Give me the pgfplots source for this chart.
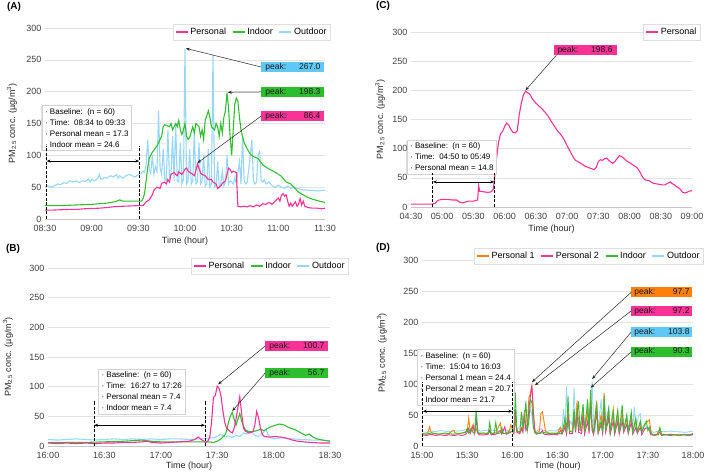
\documentclass[border=0pt]{standalone}
\usepackage{fontspec}
\setmainfont{Liberation Sans}
\usepackage{pgfplots}
\pgfplotsset{compat=1.18}
\usetikzlibrary{arrows.meta,shadows}

\definecolor{cpink}{RGB}{250,50,150}
\definecolor{cgreen}{RGB}{50,190,50}
\definecolor{cblue}{RGB}{150,215,250}
\definecolor{corange}{RGB}{255,128,10}
\definecolor{bpink}{RGB}{250,50,150}
\definecolor{bgreen}{RGB}{45,190,45}
\definecolor{bblue}{RGB}{95,200,245}
\definecolor{borange}{RGB}{255,128,10}

\pgfplotsset{
  panel/.style={
    scale only axis, clip=false,
    ymin=0, ymax=300, ytick={0,50,...,300},
    axis x line*=bottom, axis y line*=left,
    x axis line style={draw=gray!45, -},
    y axis line style={draw=none},
    major tick length=0pt,
    ymajorgrids, grid style={gray!22, line width=0.6pt},
    tick label style={font=\fontsize{9}{10}\selectfont, text=black!75},
    xticklabel style={yshift=-2.5pt},
    /pgf/number format/assume math mode=true,
    label style={font=\fontsize{9}{10}\selectfont, text=black!85},
    xlabel={Time (hour)},
    ylabel={PM\textsubscript{2.5} conc. (µg/m\textsuperscript{3})},
    legend style={draw=gray!25, fill=white, font=\fontsize{9}{10}\selectfont,
      inner sep=2pt, legend columns=-1,
      /tikz/every even column/.append style={column sep=4pt}},
    legend cell align=left,
    legend image code/.code={\draw[#1] (0pt,0pt) -- (12pt,0pt);},
    every axis plot/.append style={line width=1.1pt, no markers},
  },
}
\tikzset{
  peak/.style={fill=#1, inner sep=0pt, minimum height=10pt, minimum width=63pt,
    font=\fontsize{8.5}{9}\selectfont, text=black!90},
  pk/.style={-{Stealth[length=4pt,width=3pt]}, line width=0.5pt, black!85},
  base/.style={draw=gray!35, fill=white,
    drop shadow={shadow xshift=-1pt, shadow yshift=-1pt, opacity=0.25},
    align=left, font=\fontsize{8}{11}\selectfont, inner sep=3pt, anchor=north west},
  bl/.style={line width=0.8pt, dash pattern=on 3pt off 1.5pt},
  ba/.style={{Stealth[length=4pt,width=3pt]}-{Stealth[length=4pt,width=3pt]}, line width=0.8pt},
}
\newcommand{\pk}[1]{\makebox[55pt]{peak:\hfill #1}}

\begin{document}
\begin{tikzpicture}
\path[use as bounding box] (0pt,0pt) rectangle (709pt,473pt);

% ---------------- (A)
\begin{axis}[panel, at={(45pt,254pt)}, anchor=south west,
  width=280pt, height=191pt, xmin=0, xmax=180,
  xtick={0,30,...,180}, xticklabels={08:30,09:00,09:30,10:00,10:30,11:00,11:30},
  xlabel style={at={(axis description cs:0.5,-0.115)}, anchor=center},
  ylabel style={at={(axis description cs:-0.118,0.5)}, anchor=center},
  legend style={at={(axis description cs:0.739,0.979)}, anchor=center}]
\addlegendimage{cpink, line width=1.3pt}\addlegendentry{Personal}
\addlegendimage{cgreen, line width=1.3pt}\addlegendentry{Indoor}
\addlegendimage{cblue, line width=1.3pt}\addlegendentry{Outdoor}
\addplot[cblue, forget plot] coordinates {
(0,50)(2,52)(4,50)(6,52)(8,55)(10,54)(12,57)(14,56)(16,60)(18,58)(20,60)(22,57)
(24,60)(26,59)(28,63)(29,58)(30,62)(32,60)(34,64)(35,70)(36,62)(38,65)(40,64)
(42,68)(44,66)(46,70)(47,64)(48,68)(50,64)(52,68)(54,70)(56,68)(58,66)(60,70)
(62,72)(63,75)(64,73)(65,85)(66,125)(67,78)(68,72)(69,100)(70,70)(71,82)(72,75)
(73,170)(74,80)(75,70)(76,110)(77,62)(78,60)(79,140)(80,65)(81,70)(82,130)(83,60)
(84,150)(85,60)(86,58)(87,120)(88,55)(89,62)(90,267)(91,55)(92,60)(93,110)(94,55)
(95,60)(96,140)(97,55)(98,58)(99,120)(100,55)(101,60)(102,100)(103,52)(104,55)
(105,110)(106,50)(107,55)(108,258)(109,50)(110,52)(111,90)(112,50)(113,55)(114,75)
(115,52)(116,58)(117,100)(118,55)(119,60)(120,58)(121,55)(122,65)(123,55)(125,90)
(126,55)(127,129)(128,60)(129,55)(130,58)(132,100)(133,124)(134,60)(135,55)(136,58)
(137,100)(138,106)(139,60)(140,58)(141,62)(142,55)(144,58)(146,52)(148,50)(150,53)
(152,50)(154,48)(156,52)(158,48)(160,50)(165,46)(170,45)(175,44)(180,45)};
\addplot[cgreen, forget plot] coordinates {
(0,21)(10,21)(20,22)(30,23)(40,25)(45,27)(48,30)(50,28)(55,28)(60,28)(62,28)
(63,32)(64,40)(65,60)(66,80)(67,95)(68,100)(69,105)(70,108)(72,115)(74,125)
(75,130)(76,145)(77,148)(78,147)(80,145)(81,150)(82,140)(84,150)(85,145)(86,155)
(87,140)(88,133)(89,140)(90,150)(91,130)(92,125)(93,128)(95,145)(96,135)(97,150)
(99,145)(100,130)(101,140)(102,125)(103,155)(105,170)(106,160)(107,145)(109,140)
(110,150)(111,145)(112,130)(113,150)(114,135)(115,160)(116,170)(117,198.3)(118,175)
(119,130)(120,100)(121,140)(122,180)(123,190)(124,185)(125,160)(126,140)(128,120)
(130,110)(132,102)(134,98)(137,95)(140,85)(143,80)(146,76)(149,72)(152,67)
(155,58)(158,55)(160,50)(163,42)(166,38)(168,35)(170,33)(172,31)(175,29)(178,27)
(180,26)};
\addplot[cpink, forget plot] coordinates {
(0,14)(5,14)(10,14.5)(15,15)(20,15)(25,16)(30,16.5)(35,17)(40,18)(45,19.5)(50,20)
(55,20.5)(60,21)(63,21)(64,24)(65,27)(67,30)(69,38)(70,45)(72,50)(74,48)(75,56)
(77,58)(78,55)(79,62)(80,58)(81,70)(83,73)(84,70)(85,68)(86,74)(88,70)(90,78)
(91,80)(92,75)(94,72)(95,70)(96,68)(97,76)(98,86.4)(99,80)(100,72)(101,70)(103,68)
(105,62)(107,62)(108,58)(110,55)(111,48)(113,52)(114,56)(116,60)(117,70)(118,80)
(119,78)(120,73)(121,75)(122,74)(123,73)(124,20)(126,19)(128,20)(130,19)(132,21)
(134,19)(136,22)(138,20)(140,24)(142,23)(144,26)(146,23)(148,28)(150,33)(151,28)
(152,37)(153,40)(154,36)(155,38)(156,28)(157,20)(158,25)(159,20)(161,27)(162,20)
(163,23)(164,32)(165,22)(166,28)(167,20)(169,18)(172,17)(175,17)(178,16)(180,17)};
\node[base] at (axis cs:-2,179) {· Baseline:\ \ (n = 60)\\ · Time:\ \ 08:34 to 09:33\\ · Personal mean = 17.3\\ · Indoor mean = 24.6};
\draw[bl] (axis cs:1,0) -- (axis cs:1,115);
\draw[bl] (axis cs:60.6,0) -- (axis cs:60.6,115);
\draw[ba] (axis cs:1,91) -- (axis cs:60.6,91);
\node[peak=bblue] (pa1) at (axis cs:159.4,238.7) {\pk{267.0}};
\node[peak=bgreen] (pa2) at (axis cs:159.4,199.5) {\pk{198.3}};
\node[peak=bpink] (pa3) at (axis cs:159.4,161.8) {\pk{86.4}};
\draw[pk] (pa1.west) -- (axis cs:90.5,268);
\draw[pk] (pa2.west) -- (axis cs:117.5,199);
\draw[pk] (pa3.west) -- (axis cs:98,88);
\end{axis}

% ---------------- (C)
\begin{axis}[panel, at={(411pt,266pt)}, anchor=south west,
  width=281pt, height=175pt, xmin=0, xmax=270,
  xtick={0,30,...,270}, xticklabels={04:30,05:00,05:30,06:00,06:30,07:00,07:30,08:00,08:30,09:00},
  xlabel style={at={(axis description cs:0.5,-0.126)}, anchor=center},
  ylabel style={at={(axis description cs:-0.11,0.5)}, anchor=center},
  legend style={at={(axis description cs:0.929,1.0)}, anchor=center}]
\addlegendimage{cpink, line width=1.3pt}\addlegendentry{Personal}
\addplot[cpink, forget plot] coordinates {
(0,5)(10,5)(20,5)(23,6)(25,10)(27,12)(30,13)(35,13)(40,12)(44,12)(47,8)(50,7)
(53,9)(56,10)(60,10)(62,11)(64,12)(65,37)(66,27)(70,26)(74,25)(77,26)(79,30)
(80,45)(82,80)(84,110)(86,125)(88,130)(90,138)(92,144)(94,140)(96,133)(98,128)
(100,127)(102,130)(104,158)(106,178)(108,192)(110,198.6)(112,196)(114,194)
(116,187)(118,182)(120,178)(123,173)(126,168)(129,162)(132,155)(135,146)(138,138)
(141,130)(144,124)(147,116)(150,105)(153,95)(156,85)(158,80)(161,77)(164,74)
(167,70)(170,68)(173,66)(176,64)(178,68)(180,78)(182,81)(184,80)(186,83)(188,84)
(190,80)(192,77)(194,75)(196,78)(198,83)(200,88)(202,87)(204,84)(206,81)(208,78)
(211,75)(214,71)(217,68)(220,60)(222,53)(224,48)(226,46)(229,45)(232,41)(235,40)
(238,39)(241,38)(244,38)(247,41)(249,43)(251,40)(253,38)(255,35)(257,33)(259,30)
(261,25)(263,24)(265,25)(267,27)(270,28)};
\node[base] at (axis cs:-3.8,115) {· Baseline:\ \ (n = 60)\\ · Time:\ \ 04:50 to 05:49\\ · Personal mean = 14.8};
\draw[bl] (axis cs:21,0) -- (axis cs:21,58);
\draw[bl] (axis cs:80,0) -- (axis cs:80,58);
\draw[ba] (axis cs:21,43) -- (axis cs:80,43);
\node[peak=bpink] (pc1) at (axis cs:167.2,269) {\pk{198.6}};
\draw[pk] ([xshift=3pt]pc1.south west) -- (axis cs:110,200);
\end{axis}

% ---------------- (B)
\begin{axis}[panel, at={(48pt,27pt)}, anchor=south west,
  width=282pt, height=178pt, xmin=0, xmax=150,
  xtick={0,30,...,150}, xticklabels={16:00,16:30,17:00,17:30,18:00,18:30},
  xlabel style={at={(axis description cs:0.5,-0.112)}, anchor=center},
  ylabel style={at={(axis description cs:-0.142,0.5)}, anchor=center},
  legend style={at={(axis description cs:0.787,1.011)}, anchor=center}]
\addlegendimage{cpink, line width=1.3pt}\addlegendentry{Personal}
\addlegendimage{cgreen, line width=1.3pt}\addlegendentry{Indoor}
\addlegendimage{cblue, line width=1.3pt}\addlegendentry{Outdoor}
\addplot[cblue, forget plot] coordinates {
(0,11)(5,10)(10,11)(15,12)(20,11)(25,10)(30,11)(35,12)(40,11)(45,12)(50,11)(55,12)
(60,11)(65,12)(70,12)(75,11)(80,12)(85,13)(88,14)(90,16)(92,20)(94,15)(96,17)
(98,14)(100,18)(102,16)(104,22)(106,20)(108,24)(110,18)(112,16)(114,22)(116,28)
(117,20)(118,15)(120,12)(125,14)(130,12)(135,11)(140,10)(145,10)(150,9)};
\addplot[cgreen, forget plot] coordinates {
(0,6)(10,6)(20,6)(30,7)(40,8)(45,9)(50,10)(52,9)(55,8)(60,7)(70,7)(80,7)(85,7)
(88,6)(90,8)(92,12)(94,18)(95,25)(96,40)(97,50)(98,56.7)(99,45)(100,35)(101,45)
(102,55)(103,42)(104,33)(105,27)(107,24)(110,25)(113,28)(115,26)(117,30)(119,33)
(121,35)(123,37)(125,36)(127,33)(129,30)(131,28)(133,25)(135,21)(137,18)(139,20)
(141,15)(143,12)(146,10)(150,8)};
\addplot[cpink, forget plot] coordinates {
(0,5)(5,4)(10,5)(15,4)(20,5)(25,4)(30,5)(35,5)(40,6)(45,6)(50,7)(53,8)(55,6)
(60,5)(65,6)(70,7)(75,8)(78,11)(80,15)(81,12)(83,8)(84,6)(85,8)(86,14)(87,40)
(88,82)(89,85)(90,100.7)(91,97)(92,85)(93,60)(94,40)(95,30)(96,27)(97,24)(98,22)
(99,30)(100,45)(101,65)(102,83)(103,55)(104,30)(105,25)(107,22)(109,24)(110,35)
(111,58)(112,48)(113,30)(114,20)(115,16)(118,15)(121,16)(124,15)(127,13)(130,10)
(133,8)(136,7)(140,6)(145,5)(150,5)};
\node[base] at (axis cs:26.8,130) {· Baseline:\ \ (n = 60)\\ · Time:\ \ 16:27 to 17:26\\ · Personal mean = 7.4\\ · Indoor mean = 7.4};
\draw[bl] (axis cs:24.5,0) -- (axis cs:24.5,76);
\draw[bl] (axis cs:83.5,0) -- (axis cs:83.5,76);
\draw[ba] (axis cs:24.5,35) -- (axis cs:83.5,35);
\node[peak=bpink] (pb1) at (axis cs:132.4,168.5) {\pk{100.7}};
\node[peak=bgreen] (pb2) at (axis cs:132.4,123) {\pk{56.7}};
\draw[pk] (pb1.west) -- (axis cs:90.5,104);
\draw[pk] (pb2.west) -- (axis cs:98,59);
\end{axis}

% ---------------- (D)
\begin{axis}[panel, at={(422pt,27pt)}, anchor=south west,
  width=271pt, height=186pt, xmin=0, xmax=180,
  xtick={0,30,...,180}, xticklabels={15:00,15:30,16:00,16:30,17:00,17:30,18:00},
  xlabel style={at={(axis description cs:0.5,-0.108)}, anchor=center},
  ylabel style={at={(axis description cs:-0.148,0.5)}, anchor=center},
  legend style={at={(axis description cs:0.616,1.022)}, anchor=center},
  every axis plot/.append style={line width=0.9pt}]
\addlegendimage{corange, line width=1.3pt}\addlegendentry{Personal 1}
\addlegendimage{cpink, line width=1.3pt}\addlegendentry{Personal 2}
\addlegendimage{cgreen, line width=1.3pt}\addlegendentry{Indoor}
\addlegendimage{cblue, line width=1.3pt}\addlegendentry{Outdoor}
\addplot[cblue, forget plot] coordinates {
(0,23)(3,22)(6,24)(9,23)(12,25)(15,24)(18,23)(21,25)(24,24)(27,25)(30,27)(32,25)
(34,30)(35,24)(36,55)(37,26)(39,24)(42,25)(45,26)(48,25)(51,24)(54,26)(57,25)
(60,28)(62,45)(63,26)(66,35)(67,50)(68,28)(70,30)(72,60)(73,50)(74,28)(76,24)
(79,28)(80,26)(83,24)(86,25)(89,24)(92,30)(93,25)(94,60)(95,28)(96,96)(97,30)
(99,40)(100,30)(101,94)(102,30)(104,45)(105,28)(107,60)(108,28)(110,70)(111,28)
(113,103.8)(114,35)(115,26)(116,60)(117,28)(119,75)(120,30)(121,86)(122,30)
(124,65)(125,26)(127,55)(128,26)(130,50)(131,26)(133,45)(134,26)(136,50)(137,26)
(139,45)(140,28)(141,63)(142,30)(144,50)(145,52)(146,28)(148,35)(150,28)(152,25)
(154,22)(157,24)(160,23)(165,24)(170,23)(175,22)(180,24)};
\addplot[corange, forget plot] coordinates {
(0,20)(3,19)(4,22)(5,31)(6,22)(8,20)(11,19)(14,20)(17,19)(20,24)(21,25)(22,21)
(25,20)(28,22)(30,24)(31,45)(32,24)(34,35)(35,22)(36,28)(37,21)(40,21)(43,20)
(45,25)(46,20)(49,21)(52,37)(53,22)(55,20)(58,24)(59,34)(60,28)(61,22)(62,40)
(63,24)(65,22)(66,30)(67,25)(68,58)(69,30)(70,35)(71,78)(72,85)(73,97.7)(74,55)
(75,25)(76,21)(78,24)(79,53)(80,55)(81,40)(82,24)(84,21)(87,20)(90,21)(92,30)
(93,22)(95,35)(96,22)(97,60)(98,24)(100,24)(101,55)(102,26)(103,73)(104,28)
(106,24)(107,60)(108,24)(110,55)(111,25)(112,85)(113,30)(114,22)(116,73)(117,24)
(119,50)(120,28)(121,85)(122,28)(124,55)(125,24)(127,60)(128,24)(130,55)(131,24)
(133,55)(134,26)(136,45)(137,24)(139,50)(140,24)(142,40)(143,24)(145,38)(146,24)
(148,35)(150,40)(151,42)(152,24)(153,18)(156,19)(158,28)(159,19)(162,18)(165,19)
(168,18)(171,19)(174,18)(177,18)(180,19)};
\addplot[cpink, forget plot] coordinates {
(0,18)(3,17)(6,19)(9,17)(12,18)(15,17)(18,18)(21,17)(24,18)(27,17)(29,19)(30,22)
(31,28)(32,20)(34,32)(35,20)(36,45)(37,21)(38,18)(41,18)(44,19)(45,25)(46,18)
(49,19)(52,25)(53,19)(55,31)(56,19)(58,21)(60,24)(61,20)(62,60)(63,22)(65,20)
(66,28)(67,22)(68,50)(69,25)(70,30)(71,60)(72,80)(73,97.2)(74,50)(75,22)(76,19)
(79,22)(80,25)(81,19)(84,18)(87,19)(90,18)(92,25)(93,19)(95,30)(96,19)(97,50)
(98,20)(100,20)(101,45)(102,22)(103,55)(104,22)(106,20)(107,50)(108,19)(110,40)
(111,20)(112,70)(113,25)(114,18)(116,55)(117,20)(119,35)(120,20)(121,55)(122,22)
(124,45)(125,19)(127,40)(128,19)(130,40)(131,19)(133,40)(134,22)(136,35)(137,20)
(139,38)(140,19)(142,30)(143,20)(145,30)(146,18)(148,28)(150,30)(151,25)(152,18)
(155,17)(158,22)(159,17)(162,18)(165,17)(168,18)(171,17)(174,18)(177,17)(180,18)};
\addplot[cgreen, forget plot] coordinates {
(0,20)(3,19)(6,21)(9,20)(12,19)(15,21)(18,20)(21,19)(24,20)(27,21)(29,22)(30,28)
(31,21)(33,28)(34,21)(35,22)(36,57)(37,24)(38,20)(41,21)(44,20)(45,38)(46,20)
(48,21)(49,38)(50,20)(52,21)(53,30)(54,20)(57,21)(60,24)(61,22)(62,86)(63,25)
(65,22)(66,55)(67,30)(68,40)(69,72)(70,25)(71,40)(72,75)(73,70)(74,30)(75,21)
(78,20)(81,22)(84,20)(87,21)(90,20)(93,20)(95,45)(96,21)(97,80)(98,24)(100,22)
(101,60)(102,25)(104,72)(105,24)(107,68)(108,22)(110,75)(111,25)(112,90.3)(113,30)
(114,22)(116,70)(117,22)(119,40)(120,22)(121,80)(122,25)(124,60)(125,22)(127,55)
(128,22)(130,58)(131,22)(133,66)(134,25)(136,50)(137,22)(139,55)(140,22)(142,45)
(143,22)(145,40)(146,22)(148,35)(149,40)(150,25)(151,30)(152,20)(155,18)(157,18)
(158,30)(159,19)(162,18)(165,19)(168,18)(171,17)(174,19)(177,18)(180,20)};
\node[base] at (axis cs:-3,156) {· Baseline:\ \ (n = 60)\\ · Time:\ \ 15:04 to 16:03\\ · Personal 1 mean = 24.4\\ · Personal 2 mean = 20.7\\ · Indoor mean = 21.7};
\draw[bl] (axis cs:0.5,0) -- (axis cs:0.5,103);
\draw[bl] (axis cs:60,0) -- (axis cs:60,103);
\draw[ba] (axis cs:0.5,56) -- (axis cs:60,56);
\node[peak=borange, minimum width=61pt] (pd1) at (axis cs:159.4,248) {\pk{97.7}};
\node[peak=bpink, minimum width=61pt] (pd2) at (axis cs:159.4,218) {\pk{97.2}};
\node[peak=bblue, minimum width=61pt] (pd3) at (axis cs:159.4,184) {\pk{103.8}};
\node[peak=bgreen, minimum width=61pt] (pd4) at (axis cs:159.4,152) {\pk{90.3}};
\draw[pk] (pd1.west) -- (axis cs:73,103);
\draw[pk] (pd2.west) -- (axis cs:75,98);
\draw[pk] (pd3.west) -- (axis cs:113,108);
\draw[pk] (pd4.west) -- (axis cs:112,94);
\end{axis}

\node[font=\bfseries\fontsize{10}{12}\selectfont] at (14pt,466pt) {(A)};
\node[font=\bfseries\fontsize{10}{12}\selectfont] at (383pt,467pt) {(C)};
\node[font=\bfseries\fontsize{10}{12}\selectfont] at (13pt,224pt) {(B)};
\node[font=\bfseries\fontsize{10}{12}\selectfont] at (383pt,225pt) {(D)};
\end{tikzpicture}
\end{document}
